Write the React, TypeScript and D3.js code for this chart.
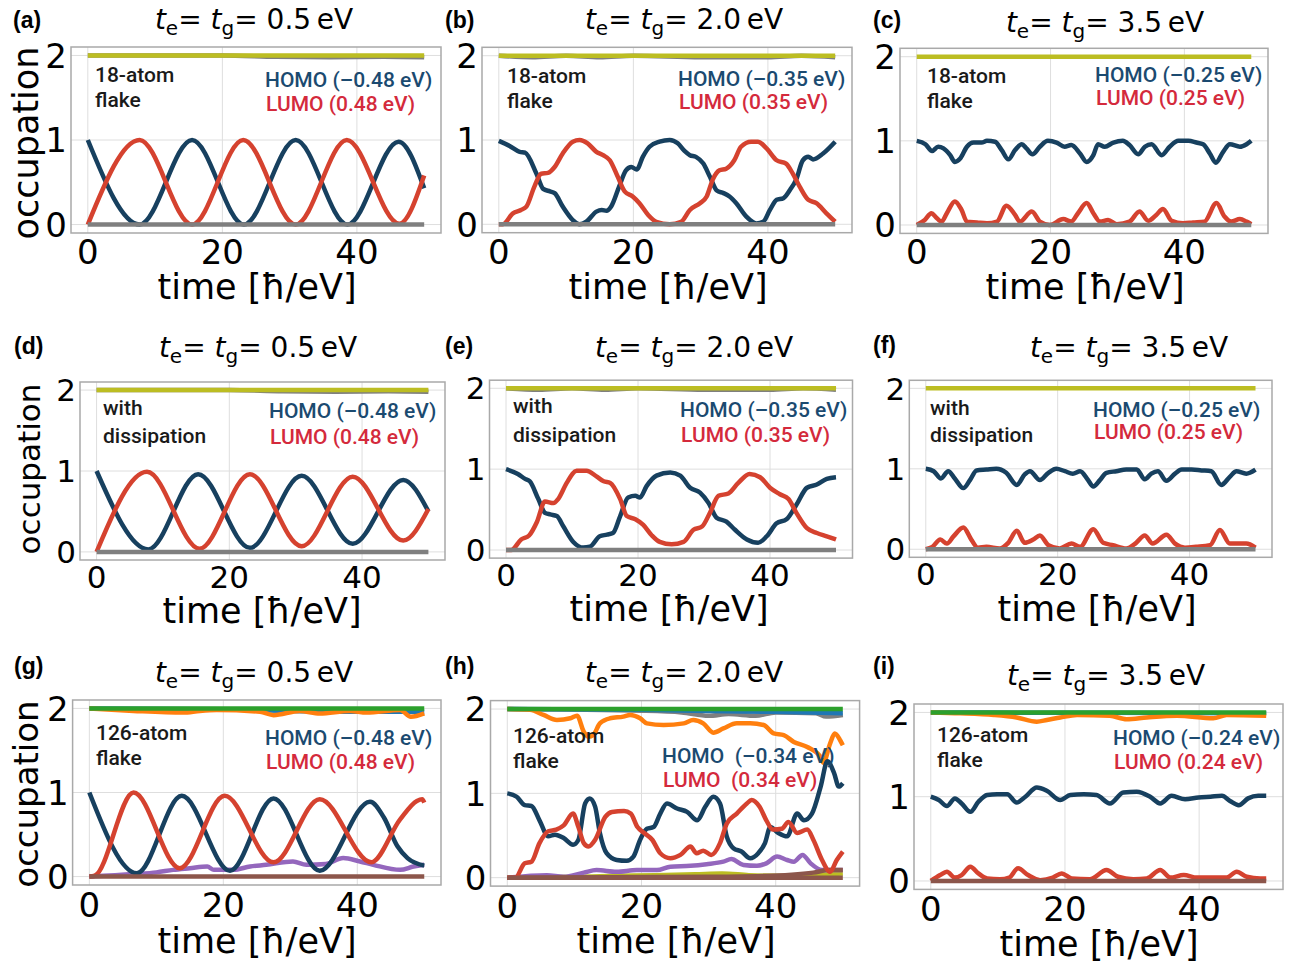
import React, { useEffect, useRef } from "react";
import * as d3 from "d3";

type Pt = [number, number];

const W = 1292;
const H = 968;

// ---------- tick / label values ----------
const xTicks = [0, 20, 40];
const yTicks = [0, 1, 2];
const letters = ["(a)", "(b)", "(c)", "(d)", "(e)", "(f)", "(g)", "(h)", "(i)"];
const hopping = ["0.5", "2.0", "3.5", "0.5", "2.0", "3.5", "0.5", "2.0", "3.5"];
const notes: [string, string][] = [["18-atom", "flake"], ["with", "dissipation"], ["126-atom", "flake"]];
const homoLabels = ["HOMO (–0.48 eV)", "HOMO (–0.35 eV)", "HOMO (–0.25 eV)", "HOMO (–0.48 eV)", "HOMO (–0.35 eV)", "HOMO (–0.25 eV)", "HOMO (–0.48 eV)", "HOMO  (–0.34 eV)", "HOMO (–0.24 eV)"];
const lumoLabels = ["LUMO (0.48 eV)", "LUMO (0.35 eV)", "LUMO (0.25 eV)", "LUMO (0.48 eV)", "LUMO (0.35 eV)", "LUMO (0.25 eV)", "LUMO (0.48 eV)", "LUMO  (0.34 eV)", "LUMO (0.24 eV)"];

// ---------- series (time, occupation) ----------
const flatTwo: Pt[] = [[0, 2], [50, 2]];
const flatZero: Pt[] = [[0, 0], [50, 0]];

// (a)
const aGrayTop: Pt[] = [[0, 2], [20, 2], [28, 1.985], [36, 1.98], [44, 1.985], [50, 1.978]];
const aHomo: Pt[] = [[0, 1], [7.7, 0], [15.5, 1], [23.2, 0], [30.9, 1], [38.6, 0], [46.2, 0.98], [50, 0.43]];
const aLumo: Pt[] = [[0, 0], [7.7, 1], [15.5, 0], [23.1, 1], [30.9, 0], [38.5, 1], [46.3, 0.01], [50, 0.58]];

// (b)
const bGrayTop: Pt[] = [[0, 2], [5, 1.982], [10, 2], [15, 1.982], [20, 2], [30, 1.982], [40, 1.982], [45, 2], [50, 1.982]];
const bHomo: Pt[] = [[0, 0.99], [1.6, 0.93], [3.1, 0.86], [3.9, 0.85], [5.6, 0.6], [6.6, 0.42], [7.6, 0.39], [8.3, 0.37], [9.5, 0.21], [11, 0.05], [12, 0], [13, 0.03], [14.5, 0.15], [15.3, 0.17], [16, 0.16], [16.7, 0.21], [17.9, 0.45], [18.9, 0.64], [19.7, 0.68], [20.5, 0.65], [21.4, 0.8], [22.4, 0.92], [23.9, 0.98], [25.4, 1.0], [26.6, 0.96], [27.6, 0.87], [28.4, 0.82], [29.3, 0.8], [30.4, 0.72], [31.4, 0.56], [32.4, 0.4], [33.4, 0.37], [34.3, 0.33], [35.3, 0.25], [36.8, 0.09], [38.3, 0.01], [39.3, 0.03], [40.3, 0.17], [41.3, 0.29], [42.3, 0.31], [43.3, 0.41], [44.2, 0.53], [45.2, 0.76], [46, 0.8], [46.7, 0.77], [48.2, 0.84], [50, 0.98]];
const bLumo: Pt[] = [[0, 0], [0.6, 0], [2.1, 0.13], [3.3, 0.17], [4.1, 0.21], [5.3, 0.45], [6.3, 0.6], [7.3, 0.61], [8.3, 0.68], [9.5, 0.84], [11, 0.98], [12, 1.0], [13.2, 0.96], [14.5, 0.86], [15.5, 0.82], [16.5, 0.76], [17.7, 0.56], [18.7, 0.39], [19.9, 0.33], [20.9, 0.25], [22.2, 0.11], [23.4, 0.03], [25.4, 0], [27.1, 0.03], [28.4, 0.17], [29.9, 0.25], [30.9, 0.33], [31.8, 0.53], [32.8, 0.64], [33.8, 0.66], [35, 0.76], [36, 0.92], [37.5, 0.98], [38.5, 0.98], [39.8, 0.9], [41.3, 0.76], [42.7, 0.72], [43.7, 0.6], [44.7, 0.45], [46, 0.29], [47.2, 0.25], [48.7, 0.13], [50, 0.03]];

// (c)
const cHomo: Pt[] = [[0, 1], [1.3, 0.96], [2.3, 0.88], [3.2, 0.93], [4, 0.91], [5, 0.83], [5.7, 0.75], [6.5, 0.79], [7.5, 0.93], [8.5, 0.98], [9.7, 0.98], [10.5, 1], [11.7, 0.99], [12.7, 0.89], [13.7, 0.78], [14.7, 0.89], [15.7, 0.96], [16.4, 0.91], [17.3, 0.84], [18.4, 0.93], [19.6, 1], [20.9, 0.98], [22.1, 0.93], [23.1, 0.95], [24.4, 0.85], [25.4, 0.75], [26.4, 0.83], [27.1, 0.96], [28.1, 0.93], [29.4, 0.98], [30.8, 1], [31.8, 0.95], [33.1, 0.84], [34.1, 0.93], [35.1, 0.96], [36.6, 0.83], [37.8, 0.93], [39.1, 1], [40.6, 1], [41.8, 0.98], [42.8, 0.96], [43.8, 0.85], [44.7, 0.74], [45.8, 0.87], [46.8, 0.96], [48.3, 0.93], [49.3, 0.96], [50, 1]];
const cLumo: Pt[] = [[0, 0], [1.2, 0.06], [2.2, 0.14], [2.9, 0.09], [3.7, 0.04], [4.5, 0.14], [5.7, 0.28], [6.7, 0.18], [7.5, 0.04], [9, 0.03], [10.5, 0.02], [12, 0.04], [13.4, 0.23], [14.7, 0.12], [15.4, 0.04], [17.2, 0.16], [18.4, 0.04], [19.9, 0], [21.9, 0.07], [23.1, 0.04], [24.1, 0.14], [25.4, 0.26], [26.4, 0.14], [27.4, 0.04], [28.6, 0.06], [29.9, 0.01], [31.8, 0.04], [33.3, 0.16], [34.6, 0.05], [35.8, 0.12], [36.8, 0.19], [38.1, 0.05], [39.8, 0.02], [41.3, 0.03], [43, 0.04], [44.8, 0.26], [46, 0.1], [47, 0.04], [48.3, 0.07], [49.3, 0.04], [50, 0.01]];

// (d)
const dHomo: Pt[] = [[0, 1], [7.8, 0.03], [15.3, 0.96], [23.1, 0.05], [30.9, 0.94], [38.6, 0.1], [46.2, 0.89], [50, 0.5]];
const dLumo: Pt[] = [[0, 0], [7.6, 0.99], [15.5, 0.04], [23.1, 0.96], [30.9, 0.07], [38.6, 0.93], [46.2, 0.14], [50, 0.53]];

// (e)
const eHomo: Pt[] = [[0, 1], [1.8, 0.94], [2.9, 0.88], [3.6, 0.85], [4.9, 0.63], [5.9, 0.46], [6.7, 0.44], [7.7, 0.42], [8.7, 0.29], [10.2, 0.1], [11.7, 0.03], [12.7, 0.04], [14.2, 0.17], [15.3, 0.19], [16.2, 0.21], [17.3, 0.42], [18.5, 0.65], [19.6, 0.67], [20.3, 0.65], [21.3, 0.79], [22.8, 0.92], [24.9, 0.96], [26.4, 0.92], [27.9, 0.77], [29.4, 0.71], [30.7, 0.58], [31.9, 0.4], [33.4, 0.35], [34.7, 0.25], [36.5, 0.13], [38.2, 0.09], [39.5, 0.17], [41, 0.33], [42.5, 0.38], [44, 0.56], [45.6, 0.77], [47.1, 0.81], [48.6, 0.88], [50, 0.9]];
const eLumo: Pt[] = [[0, 0], [0.8, 0], [2.3, 0.13], [3.5, 0.18], [4.7, 0.35], [5.9, 0.6], [7.2, 0.58], [7.9, 0.63], [9.2, 0.83], [10.7, 0.98], [12.2, 0.98], [13.7, 0.91], [14.8, 0.85], [15.8, 0.83], [17.3, 0.63], [18.3, 0.42], [19.6, 0.38], [20.8, 0.31], [22.1, 0.18], [23.3, 0.1], [25.1, 0.07], [26.9, 0.1], [28.4, 0.25], [29.7, 0.29], [30.9, 0.46], [32.2, 0.67], [33.7, 0.7], [35.2, 0.83], [36.9, 0.94], [38.5, 0.9], [40, 0.77], [41.5, 0.69], [42.8, 0.63], [44, 0.46], [45.6, 0.27], [47.1, 0.21], [48.6, 0.17], [50, 0.13]];

// (f)
const fHomo: Pt[] = [[0, 1], [1.2, 0.97], [2.3, 0.88], [3.4, 0.97], [4.4, 0.88], [5.7, 0.76], [6.7, 0.86], [7.7, 0.98], [9.2, 0.99], [10.7, 1], [12.2, 0.95], [13.8, 0.8], [15, 0.93], [15.8, 0.97], [17.3, 0.86], [18.6, 0.95], [19.8, 1], [21.1, 0.97], [22.3, 0.94], [23.4, 0.97], [24.6, 0.86], [25.4, 0.78], [26.4, 0.86], [27.4, 0.95], [28.9, 0.97], [30.4, 0.99], [32, 0.99], [33.2, 0.87], [34.2, 0.94], [35.2, 0.97], [36.5, 0.85], [37.8, 0.94], [38.8, 0.99], [40.3, 0.99], [41.8, 0.98], [43.3, 0.97], [44.8, 0.8], [46.1, 0.9], [47.1, 0.97], [48.6, 0.94], [50, 0.99]];
const fLumo: Pt[] = [[0, 0], [1, 0.03], [2.2, 0.12], [3.2, 0.07], [4.2, 0.16], [5.7, 0.27], [6.9, 0.12], [7.9, 0.02], [9.2, 0.03], [11.2, 0.01], [12.5, 0.08], [13.8, 0.23], [15, 0.08], [16.3, 0.12], [17.3, 0.17], [18.6, 0.05], [20.3, 0.01], [22.1, 0.07], [23.4, 0.03], [25.4, 0.25], [26.9, 0.08], [28.4, 0.05], [30.4, 0.01], [31.9, 0.08], [33.2, 0.17], [34.4, 0.07], [36.5, 0.18], [37.8, 0.07], [39.3, 0.02], [41, 0.03], [43.1, 0.05], [44.6, 0.24], [46.1, 0.07], [47.4, 0.07], [48.6, 0.07], [50, 0.02]];

// (g)
const gBlue: Pt[] = [[0, 2], [20, 1.99], [30, 1.97], [40, 1.96], [50, 1.96]];
const gOrange: Pt[] = [[0, 2], [4, 1.98], [6.6, 1.97], [14, 1.95], [16.5, 1.97], [19, 1.98], [25.5, 1.96], [27.5, 1.92], [31.4, 1.97], [34.4, 1.94], [38.9, 1.97], [41.4, 1.95], [46.4, 1.98], [48, 1.9], [50, 1.94]];
const gPurple: Pt[] = [[0, 0], [6.6, 0.03], [10, 0.05], [12.5, 0.08], [15, 0.1], [17.6, 0.12], [18.6, 0.08], [21.5, 0.08], [24, 0.12], [26.4, 0.14], [30.4, 0.18], [32.4, 0.14], [35.3, 0.15], [37.9, 0.22], [40.4, 0.18], [42.4, 0.14], [46.4, 0.08], [48.4, 0.12], [50, 0.14]];
const gHomo: Pt[] = [[0, 1], [7.1, 0.04], [13.8, 0.96], [21, 0.07], [27.5, 0.93], [34.4, 0.07], [41.9, 0.89], [44, 0.7], [46, 0.36], [47.5, 0.22], [50, 0.13]];
const gLumo: Pt[] = [[0, 0], [0.8, 0.01], [6.6, 1], [13.5, 0.1], [20.2, 0.96], [27.5, 0.17], [34.4, 0.92], [42.1, 0.17], [46.4, 0.68], [48.9, 0.9], [49.7, 0.92], [50, 0.88]];

// (h)
const hGray: Pt[] = [[0, 2], [20, 1.98], [26, 1.96], [30, 1.92], [33, 1.94], [37, 1.92], [40, 1.96], [46, 1.95], [47.5, 1.91], [50, 1.93]];
const hBlue: Pt[] = [[0, 2], [20, 1.99], [35, 1.97], [45, 1.96], [50, 1.95]];
const hOrange: Pt[] = [[0, 2], [3.4, 1.99], [5.4, 1.93], [7.4, 1.87], [9.4, 1.89], [10.4, 1.92], [11.4, 1.73], [12.1, 1.67], [12.8, 1.69], [13.8, 1.83], [15.3, 1.89], [17.3, 1.91], [18.3, 1.93], [19.8, 1.89], [20.8, 1.83], [23.3, 1.81], [26.3, 1.83], [27.7, 1.87], [29.2, 1.83], [30.7, 1.72], [32.2, 1.77], [34.2, 1.83], [36.2, 1.83], [38.2, 1.81], [39.7, 1.71], [41.2, 1.69], [42.7, 1.61], [44.7, 1.55], [46.7, 1.43], [47.1, 1.36], [48.1, 1.59], [48.8, 1.71], [49.6, 1.63], [50, 1.57]];
const hOlive: Pt[] = [[0, 0], [10, 0.01], [15, 0.02], [22, 0.03], [28, 0.04], [32, 0.05], [36, 0.03], [42, 0.02], [50, 0.05]];
const hPurple: Pt[] = [[0, 0], [5.9, 0.03], [8.4, 0.01], [11.4, 0.06], [13.3, 0.09], [16.3, 0.07], [19.3, 0.09], [22.3, 0.09], [24.3, 0.13], [27.3, 0.14], [29.7, 0.16], [32.2, 0.19], [33.4, 0.22], [35.2, 0.15], [37.2, 0.14], [38.6, 0.17], [40.2, 0.25], [41.7, 0.21], [42.7, 0.19], [44, 0.27], [45.2, 0.17], [46.9, 0.09], [50, 0.09]];
const hBrown: Pt[] = [[0, 0], [30, 0.01], [38, 0.02], [45.6, 0.06], [48, 0.09], [50, 0.09]];
const hHomo: Pt[] = [[0, 1], [1.4, 0.96], [2.6, 0.86], [3.6, 0.85], [4.8, 0.68], [6.1, 0.49], [7.1, 0.51], [8.4, 0.47], [9.8, 0.39], [10.6, 0.45], [11.6, 0.88], [12.3, 0.94], [13.1, 0.84], [13.8, 0.53], [14.8, 0.29], [16.3, 0.21], [17.8, 0.2], [18.8, 0.25], [19.8, 0.45], [20.8, 0.58], [21.8, 0.6], [22.8, 0.76], [23.8, 0.88], [25.3, 0.82], [26.8, 0.78], [28.3, 0.68], [29.5, 0.84], [30.7, 0.96], [31.7, 0.88], [32.7, 0.49], [33.7, 0.35], [34.9, 0.31], [36.2, 0.23], [37.4, 0.29], [38.4, 0.41], [39.2, 0.6], [40.4, 0.53], [41.7, 0.49], [43.2, 0.76], [44.2, 0.68], [45.4, 0.76], [46.7, 1.08], [47.7, 1.38], [48.7, 1.24], [49.4, 1.08], [50, 1.12]];
const hLumo: Pt[] = [[0, 0], [1.2, 0], [2.6, 0.17], [3.6, 0.19], [4.8, 0.41], [6.1, 0.55], [7.3, 0.57], [8.4, 0.62], [9.8, 0.76], [10.6, 0.6], [11.4, 0.41], [12.1, 0.37], [13.1, 0.45], [14.6, 0.72], [15.6, 0.78], [17.4, 0.79], [18.4, 0.76], [19.4, 0.6], [20.4, 0.53], [21.6, 0.45], [22.8, 0.29], [24.3, 0.23], [25.8, 0.27], [27.3, 0.37], [28.2, 0.29], [29.2, 0.32], [30.4, 0.27], [31.7, 0.41], [32.7, 0.64], [34.2, 0.76], [35.7, 0.88], [36.4, 0.92], [37.6, 0.84], [38.6, 0.68], [39.6, 0.57], [40.9, 0.58], [41.9, 0.66], [43.2, 0.53], [44.7, 0.57], [45.6, 0.45], [46.9, 0.21], [48.1, 0.07], [49.1, 0.21], [50, 0.31]];

// (i)
const iBlue: Pt[] = [[0, 2], [25, 1.995], [50, 1.99]];
const iOrange: Pt[] = [[0, 2], [4.4, 1.99], [9.4, 1.97], [12.8, 1.94], [15.8, 1.89], [17.3, 1.91], [19.3, 1.94], [21.8, 1.97], [26.7, 1.96], [29.2, 1.92], [32.2, 1.94], [36.7, 1.96], [42.1, 1.93], [44.1, 1.97], [50, 1.96]];
const iHomo: Pt[] = [[0, 1], [1.2, 0.96], [2.4, 0.89], [3.6, 0.98], [4.6, 0.92], [5.9, 0.82], [7.1, 0.94], [8.4, 1.02], [9.9, 1.03], [11.4, 1.03], [12.8, 0.93], [14.1, 1], [15.8, 1.11], [17.3, 1.07], [19.3, 0.96], [20.8, 1.02], [22.8, 1.03], [24.7, 1.02], [26.7, 0.92], [28.7, 1.05], [30.7, 1.06], [32.7, 1], [34.2, 0.92], [35.9, 1.01], [37.9, 0.97], [39.9, 0.99], [41.7, 1], [43.4, 1.01], [44.6, 0.95], [45.9, 0.9], [47.3, 0.98], [48.8, 1.01], [50, 1.01]];
const iLumo: Pt[] = [[0, 0], [1.4, 0.07], [2.4, 0.11], [3.6, 0.04], [4.6, 0.07], [5.9, 0.17], [7.1, 0.09], [8.4, 0.03], [10.3, 0.02], [11.7, 0.04], [13, 0.15], [14.5, 0.07], [16.3, 0.01], [18.2, 0.04], [19.5, 0.09], [21, 0.03], [23.7, 0.02], [26.2, 0.13], [27.9, 0.05], [30.2, 0.02], [32.2, 0.03], [34.2, 0.13], [35.7, 0.04], [37.7, 0.07], [39.7, 0.04], [42.1, 0.04], [44.1, 0.04], [45.6, 0.11], [47.1, 0.05], [49.1, 0.03], [50, 0.03]];

// ---------- styling ----------
const COLORS: Record<string, string> = {
  navy: "#17405f",
  red: "#d5422f",
  olive: "#bcbd22",
  gray: "#7f7f7f",
  blue: "#1f77b4",
  orange: "#ff7f0e",
  green: "#2ca02c",
  purple: "#9467bd",
  brown: "#8c564b",
};

// draw order per panel: [series, colour]
const panelLines: [Pt[], string][][] = [
  [[aGrayTop, "gray"], [flatTwo, "olive"], [aHomo, "navy"], [aLumo, "red"], [flatZero, "gray"]],
  [[bGrayTop, "gray"], [flatTwo, "olive"], [bHomo, "navy"], [bLumo, "red"], [flatZero, "gray"]],
  [[flatTwo, "olive"], [cHomo, "navy"], [cLumo, "red"], [flatZero, "gray"]],
  [[aGrayTop, "gray"], [flatTwo, "olive"], [dHomo, "navy"], [dLumo, "red"], [flatZero, "gray"]],
  [[bGrayTop, "gray"], [flatTwo, "olive"], [eHomo, "navy"], [eLumo, "red"], [flatZero, "gray"]],
  [[flatTwo, "olive"], [fHomo, "navy"], [fLumo, "red"], [flatZero, "gray"]],
  [[gBlue, "blue"], [gOrange, "orange"], [gPurple, "purple"], [gHomo, "navy"], [gLumo, "red"], [flatTwo, "green"], [flatZero, "brown"]],
  [[hGray, "gray"], [hBlue, "blue"], [hOrange, "orange"], [hOlive, "olive"], [hPurple, "purple"], [hBrown, "brown"], [hHomo, "navy"], [hLumo, "red"], [flatTwo, "green"], [flatZero, "brown"]],
  [[iBlue, "blue"], [iOrange, "orange"], [iHomo, "navy"], [iLumo, "red"], [flatTwo, "green"], [flatZero, "brown"]],
];

// layout per panel (pixels)
const layout = [
  { L: 71, R: 441, T: 47, B: 233, tx: 254, ty: 29, lx: 13, ly: 28, nx: 95, ny: [82, 107], hx: 265, hy: [87, 111], xx: 257, xy: 299, tb: 31, fs: 34 },
  { L: 482, R: 852, T: 47.3, B: 232.7, tx: 684, ty: 29, lx: 445, ly: 28, nx: 507, ny: [83, 108], hx: 678, hy: [86, 109], xx: 668, xy: 299, tb: 31, fs: 34 },
  { L: 900, R: 1268, T: 48.3, B: 233.4, tx: 1105, ty: 32, lx: 873, ly: 28, nx: 927, ny: [83, 108], hx: 1095, hy: [82, 105], xx: 1085, xy: 299, tb: 31, fs: 34 },
  { L: 80, R: 445, T: 382, B: 560, tx: 258, ty: 357, lx: 14, ly: 354, nx: 103, ny: [415, 443], hx: 269, hy: [418, 444], xx: 262, xy: 623, tb: 28, fs: 31 },
  { L: 489.5, R: 852.5, T: 380.2, B: 558.1, tx: 694, ty: 357, lx: 445, ly: 354, nx: 513, ny: [413, 442], hx: 680, hy: [417, 442], xx: 669, xy: 621, tb: 28, fs: 31 },
  { L: 909.3, R: 1272, T: 380.3, B: 557.3, tx: 1129, ty: 357, lx: 873, ly: 353, nx: 930, ny: [415, 442], hx: 1093, hy: [417, 439], xx: 1097, xy: 621, tb: 28, fs: 31 },
  { L: 72.6, R: 441, T: 700, B: 885, tx: 254, ty: 682, lx: 14, ly: 674, nx: 96, ny: [740, 765], hx: 265, hy: [745, 769], xx: 257, xy: 953, tb: 32, fs: 34 },
  { L: 490.5, R: 859.6, T: 700.6, B: 886.1, tx: 684, ty: 682, lx: 445, ly: 674, nx: 513, ny: [743, 768], hx: 662, hy: [763, 787], xx: 676, xy: 953, tb: 32, fs: 34 },
  { L: 914, R: 1283, T: 704, B: 889.4, tx: 1106, ty: 685, lx: 873, ly: 674, nx: 937, ny: [742, 767], hx: 1113, hy: [745, 769], xx: 1099, xy: 956, tb: 32, fs: 34 },
];

// y-axis label per row
const yLabelPos = [
  { x: 38, y: 143, fs: 35 },
  { x: 40, y: 469, fs: 31 },
  { x: 38, y: 794, fs: 34 },
];

const SANS = "'DejaVu Sans', sans-serif";
const NOTE = "Roboto, 'Noto Sans', sans-serif";

export default function App() {
  const ref = useRef<SVGSVGElement>(null);

  useEffect(() => {
    document.body.style.margin = "0";
    const svg = d3.select(ref.current);
    svg.selectAll("*").remove();
    svg.append("rect").attr("width", W).attr("height", H).attr("fill", "#fff");

    panelLines.forEach((lines, i) => {
      const lay = layout[i];
      const row = Math.floor(i / 3);
      const note = notes[row];
      const x = d3.scaleLinear().domain([-2.5, 52.5]).range([lay.L, lay.R]);
      const y = d3.scaleLinear().domain([-0.1, 2.1]).range([lay.B, lay.T]);
      const g = svg.append("g");

      // grid
      g.selectAll(".gx").data(xTicks).enter().append("line")
        .attr("x1", d => x(d)).attr("x2", d => x(d))
        .attr("y1", lay.T).attr("y2", lay.B)
        .attr("stroke", "#dedede").attr("stroke-width", 1);
      g.selectAll(".gy").data(yTicks).enter().append("line")
        .attr("x1", lay.L).attr("x2", lay.R)
        .attr("y1", d => y(d)).attr("y2", d => y(d))
        .attr("stroke", "#dedede").attr("stroke-width", 1);

      // series
      const line = d3.line<Pt>().x(d => x(d[0])).y(d => y(d[1])).curve(d3.curveMonotoneX);
      lines.forEach(([data, c]) => {
        g.append("path")
          .attr("d", line(data) as string)
          .attr("fill", "none")
          .attr("stroke", COLORS[c])
          .attr("stroke-width", 4.5)
          .attr("stroke-linejoin", "round");
      });

      // frame
      g.append("rect")
        .attr("x", lay.L).attr("y", lay.T)
        .attr("width", lay.R - lay.L).attr("height", lay.B - lay.T)
        .attr("fill", "none").attr("stroke", "#a9a9a9").attr("stroke-width", 1.5);

      // tick labels
      g.selectAll(".tx").data(xTicks).enter().append("text")
        .attr("x", d => x(d)).attr("y", lay.B + lay.tb)
        .attr("text-anchor", "middle")
        .style("font-family", SANS).style("font-size", lay.fs + "px")
        .text(d => d);
      g.selectAll(".ty").data(yTicks).enter().append("text")
        .attr("x", lay.L - 4).attr("y", d => y(d) + lay.fs * 0.36)
        .attr("text-anchor", "end")
        .style("font-family", SANS).style("font-size", lay.fs + "px")
        .text(d => d);

      // x label
      g.append("text")
        .attr("x", lay.xx).attr("y", lay.xy)
        .attr("text-anchor", "middle")
        .style("font-family", SANS).style("font-size", "35px")
        .text("time [ħ/eV]");

      // y label
      if (i % 3 === 0) {
        const yl = yLabelPos[row];
        g.append("text")
          .attr("transform", `translate(${yl.x},${yl.y}) rotate(-90)`)
          .attr("text-anchor", "middle")
          .style("font-family", SANS).style("font-size", yl.fs + "px")
          .text("occupation");
      }

      // panel letter
      g.append("text")
        .attr("x", lay.lx).attr("y", lay.ly)
        .style("font-family", "'Liberation Sans', Arial, sans-serif")
        .style("font-weight", "bold").style("font-size", "23px")
        .text(letters[i]);

      // title  t_e = t_g = X eV
      const title = g.append("text")
        .attr("x", lay.tx).attr("y", lay.ty)
        .attr("text-anchor", "middle")
        .style("font-family", SANS).style("font-size", "28px");
      title.append("tspan").style("font-style", "italic").text("t");
      title.append("tspan").attr("dy", 6).style("font-size", "20px").text("e");
      title.append("tspan").attr("dy", -6).text("= ");
      title.append("tspan").style("font-style", "italic").text("t");
      title.append("tspan").attr("dy", 6).style("font-size", "20px").text("g");
      title.append("tspan").attr("dy", -6).text("= " + hopping[i] + "\u2009eV");

      // annotations
      note.forEach((s, k) => {
        g.append("text")
          .attr("x", lay.nx).attr("y", lay.ny[k])
          .style("font-family", NOTE).style("font-weight", 500).style("font-size", "21px")
          .attr("fill", "#1a1a1a")
          .text(s);
      });
      g.append("text")
        .attr("x", lay.hx).attr("y", lay.hy[0])
        .style("font-family", NOTE).style("font-weight", 500).style("font-size", "21px")
        .style("white-space", "pre")
        .attr("fill", "#1b4a70")
        .text(homoLabels[i]);
      g.append("text")
        .attr("x", lay.hx + 1).attr("y", lay.hy[1])
        .style("font-family", NOTE).style("font-weight", 500).style("font-size", "21px")
        .style("white-space", "pre")
        .attr("fill", "#d42a3c")
        .text(lumoLabels[i]);
    });
  }, []);

  return <svg ref={ref} width={W} height={H} style={{ display: "block" }} />;
}
